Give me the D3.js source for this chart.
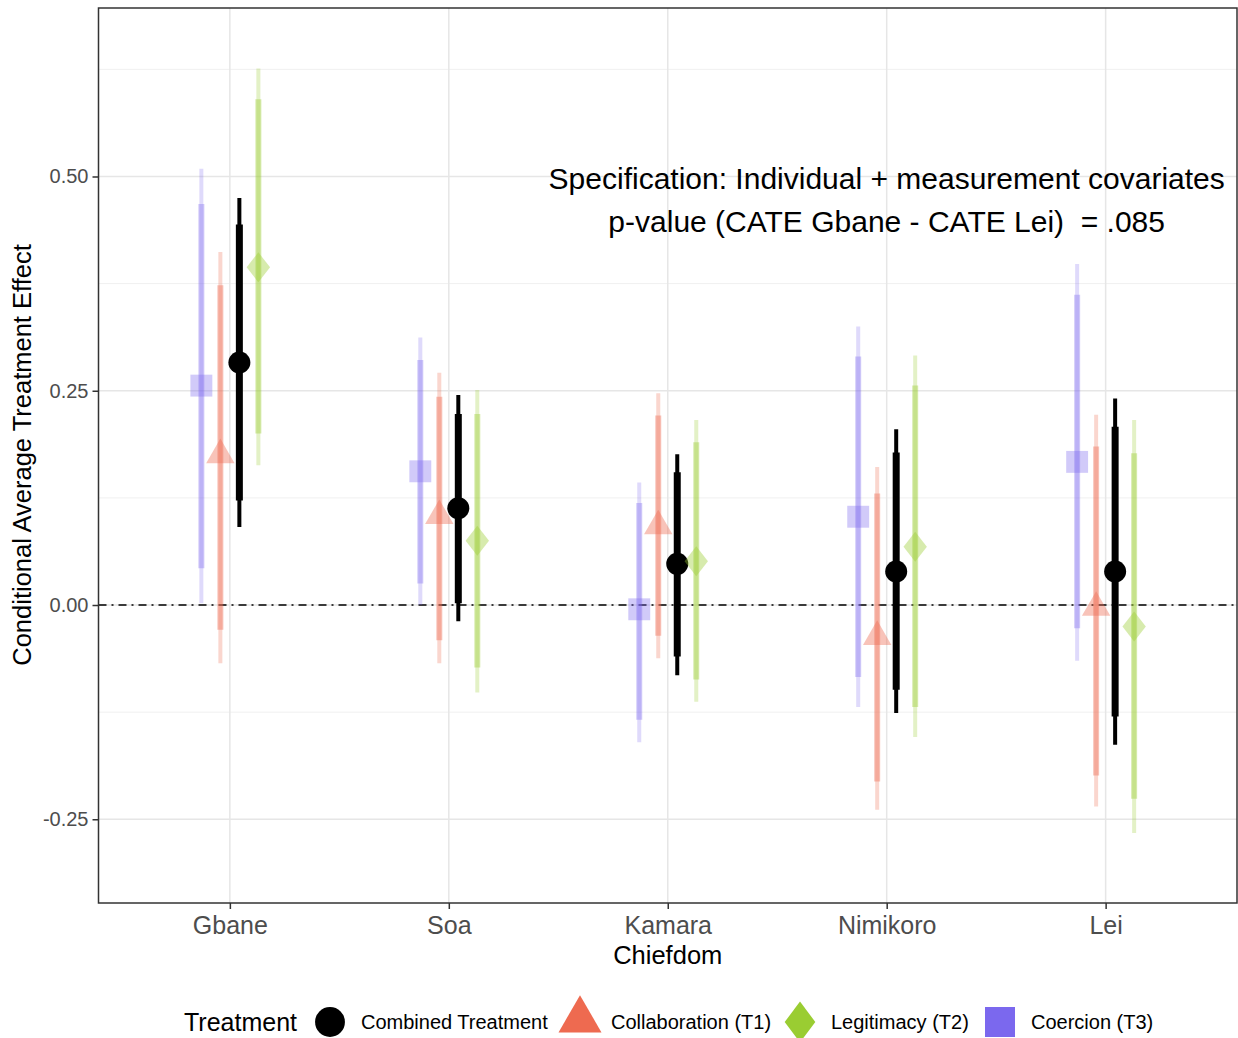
<!DOCTYPE html>
<html>
<head>
<meta charset="utf-8">
<script src="https://d3js.org/d3.v7.min.js"></script>
<style>
  body { margin: 0; background: #fff; }
  svg text { font-family: "Liberation Sans", Arial, sans-serif; }
</style>
</head>
<body>
<svg id="chart" width="1238" height="1038"></svg>
<script>
// Chiefdoms on the x axis
const chiefdoms = ["Gbane", "Soa", "Kamara", "Nimikoro", "Lei"];

// Treatments, in legend order
const treatments = ["Combined Treatment", "Collaboration (T1)", "Legitimacy (T2)", "Coercion (T3)"];
// order in which the estimates are dodged left to right
const dodgeOrder = ["Coercion (T3)", "Collaboration (T1)", "Combined Treatment", "Legitimacy (T2)"];

// point estimates per chiefdom
const combinedEst = [0.283, 0.113, 0.048, 0.039, 0.039];
const collabEst   = [0.175, 0.104, 0.092, -0.037, -0.003];
const legitEst    = [0.394, 0.075, 0.051, 0.068, -0.025];
const coercionEst = [0.256, 0.156, -0.005, 0.103, 0.167];

// inner (thick) intervals
const combinedLo90 = [0.122, 0.002, -0.060, -0.099, -0.130];
const combinedHi90 = [0.444, 0.223, 0.155, 0.178, 0.208];
const collabLo90   = [-0.029, -0.041, -0.036, -0.206, -0.199];
const collabHi90   = [0.373, 0.243, 0.221, 0.130, 0.185];
const legitLo90    = [0.200, -0.073, -0.087, -0.119, -0.226];
const legitHi90    = [0.590, 0.223, 0.190, 0.256, 0.177];
const coercionLo90 = [0.043, 0.025, -0.134, -0.084, -0.027];
const coercionHi90 = [0.468, 0.286, 0.119, 0.290, 0.362];

// outer (thin) intervals
const combinedLo95 = [0.091, -0.019, -0.082, -0.126, -0.163];
const combinedHi95 = [0.475, 0.245, 0.176, 0.205, 0.241];
const collabLo95   = [-0.068, -0.068, -0.062, -0.239, -0.235];
const collabHi95   = [0.412, 0.271, 0.247, 0.161, 0.222];
const legitLo95    = [0.163, -0.102, -0.113, -0.154, -0.266];
const legitHi95    = [0.626, 0.251, 0.216, 0.291, 0.216];
const coercionLo95 = [0.002, 0.000, -0.160, -0.119, -0.065];
const coercionHi95 = [0.509, 0.312, 0.143, 0.325, 0.398];

const yTicks = [-0.25, 0.00, 0.25, 0.50];

const seriesData = {
  "Combined Treatment": [combinedEst, combinedLo90, combinedHi90, combinedLo95, combinedHi95],
  "Collaboration (T1)": [collabEst, collabLo90, collabHi90, collabLo95, collabHi95],
  "Legitimacy (T2)":    [legitEst, legitLo90, legitHi90, legitLo95, legitHi95],
  "Coercion (T3)":      [coercionEst, coercionLo90, coercionHi90, coercionLo95, coercionHi95]
};

// flatten to rows for d3
const rows = [];
treatments.forEach(t => {
  const [est, lo90, hi90, lo95, hi95] = seriesData[t];
  chiefdoms.forEach((c, i) => {
    rows.push({ treatment: t, chiefdom: c, est: est[i], lo90: lo90[i], hi90: hi90[i], lo95: lo95[i], hi95: hi95[i] });
  });
});

const colors = d3.scaleOrdinal()
  .domain(treatments)
  .range(["#000000", "#EE6A50", "#9ACD32", "#7B68EE"]);
const alphas = { "Combined Treatment": 1, "Collaboration (T1)": 0.4, "Legitimacy (T2)": 0.4, "Coercion (T3)": 0.35 };

const svg = d3.select("#chart");
const panel = { left: 98.5, right: 1237, top: 8, bottom: 903 };

const x = d3.scalePoint().domain(chiefdoms).range([panel.left, panel.right]).padding(0.6);
const dodge = d3.scalePoint().domain(dodgeOrder).range([-28.5, 28.5]);
const y = d3.scaleLinear().domain([-0.3477, 0.6966]).range([panel.bottom, panel.top]);

// grid lines
const grid = svg.append("g");
const minorTicks = [-0.125, 0.125, 0.375, 0.625];
grid.selectAll(".minor").data(minorTicks).enter().append("line")
  .attr("x1", panel.left).attr("x2", panel.right)
  .attr("y1", d => y(d)).attr("y2", d => y(d))
  .attr("stroke", "#f0f0f0").attr("stroke-width", 1);
grid.selectAll(".major").data(yTicks).enter().append("line")
  .attr("x1", panel.left).attr("x2", panel.right)
  .attr("y1", d => y(d)).attr("y2", d => y(d))
  .attr("stroke", "#e6e6e6").attr("stroke-width", 1.5);
grid.selectAll(".vmajor").data(chiefdoms).enter().append("line")
  .attr("x1", d => x(d)).attr("x2", d => x(d))
  .attr("y1", panel.top).attr("y2", panel.bottom)
  .attr("stroke", "#e6e6e6").attr("stroke-width", 1.5);

// reference line at zero
svg.append("line")
  .attr("x1", panel.left).attr("x2", panel.right)
  .attr("y1", y(0)).attr("y2", y(0))
  .attr("stroke", "#000").attr("stroke-width", 1.6)
  .attr("stroke-dasharray", "8 5 2 5");

// intervals and points
const marks = svg.append("g");
const px = d => x(d.chiefdom) + dodge(d.treatment);

marks.selectAll(".outer").data(rows).enter().append("line")
  .attr("x1", px).attr("x2", px)
  .attr("y1", d => y(d.lo95)).attr("y2", d => y(d.hi95))
  .attr("stroke", d => colors(d.treatment))
  .attr("stroke-opacity", d => d.treatment === "Combined Treatment" ? 1 : alphas[d.treatment] * 0.7)
  .attr("stroke-width", 4);

marks.selectAll(".inner").data(rows).enter().append("line")
  .attr("x1", px).attr("x2", px)
  .attr("y1", d => y(d.lo90)).attr("y2", d => y(d.hi90))
  .attr("stroke", d => colors(d.treatment))
  .attr("stroke-opacity", d => alphas[d.treatment])
  .attr("stroke-width", d => d.treatment === "Combined Treatment" ? 7 : 6);

const symbolOf = {
  "Combined Treatment": d3.symbolCircle,
  "Collaboration (T1)": d3.symbolTriangle,
  "Legitimacy (T2)": d3.symbolDiamond,
  "Coercion (T3)": d3.symbolSquare
};
const sizeOf = {
  "Combined Treatment": 380,
  "Collaboration (T1)": 350,
  "Legitimacy (T2)": 260,
  "Coercion (T3)": 480
};

marks.selectAll(".pt").data(rows).enter().append("path")
  .attr("transform", d => {
    const r = d.treatment === "Legitimacy (T2)" ? " scale(1.35,1)" : "";
    return `translate(${px(d)},${y(d.est)})` + r;
  })
  .attr("d", d => d3.symbol().type(symbolOf[d.treatment]).size(sizeOf[d.treatment])())
  .attr("fill", d => colors(d.treatment))
  .attr("fill-opacity", d => alphas[d.treatment]);

// panel border
svg.append("rect")
  .attr("x", panel.left).attr("y", panel.top)
  .attr("width", panel.right - panel.left).attr("height", panel.bottom - panel.top)
  .attr("fill", "none").attr("stroke", "#333").attr("stroke-width", 1.5);

// axes
const xAxis = svg.append("g")
  .attr("transform", `translate(0,${panel.bottom})`)
  .call(d3.axisBottom(x).tickSize(6).tickPadding(7));
xAxis.select(".domain").remove();
xAxis.selectAll("line").attr("stroke", "#333").attr("stroke-width", 1.5);
xAxis.selectAll("text").attr("fill", "#4d4d4d").attr("font-size", "25px");

const yAxis = svg.append("g")
  .attr("transform", `translate(${panel.left},0)`)
  .call(d3.axisLeft(y).tickValues(yTicks).tickFormat(d => d3.format(".2f")(d).replace("−", "-")).tickSize(6).tickPadding(4));
yAxis.select(".domain").remove();
yAxis.selectAll("line").attr("stroke", "#333").attr("stroke-width", 1.5);
yAxis.selectAll("text").attr("fill", "#4d4d4d").attr("font-size", "20px");

// axis titles
svg.append("text")
  .attr("x", x("Kamara")).attr("y", 964)
  .attr("text-anchor", "middle").attr("font-size", "25.5px").attr("fill", "#000")
  .text("Chiefdom");
svg.append("text")
  .attr("transform", `translate(31,${455}) rotate(-90)`)
  .attr("text-anchor", "middle").attr("font-size", "25.5px").attr("fill", "#000")
  .text("Conditional Average Treatment Effect");

// annotation
const note = svg.append("text")
  .attr("text-anchor", "middle").attr("font-size", "30px").attr("fill", "#000");
note.append("tspan").attr("x", x("Nimikoro")).attr("y", 189)
  .text("Specification: Individual + measurement covariates");
note.append("tspan").attr("x", x("Nimikoro")).attr("y", 232)
  .attr("style", "white-space: pre")
  .text("p-value (CATE Gbane - CATE Lei)  = .085");

// legend
const legend = svg.append("g").attr("transform", "translate(0,1022)");
legend.append("text").attr("x", 184).attr("y", 9)
  .attr("font-size", "25px").attr("fill", "#000").text("Treatment");

const legendX = [330, 580, 800, 1000];
const legendSizes = { "Combined Treatment": 700, "Collaboration (T1)": 800, "Legitimacy (T2)": 480, "Coercion (T3)": 900 };
treatments.forEach((t, i) => {
  const g = legend.append("g").attr("transform", `translate(${legendX[i]},0)`);
  g.append("path")
    .attr("transform", t === "Legitimacy (T2)" ? "scale(1.3,1)" : (t === "Collaboration (T1)" ? "translate(0,-2)" : null))
    .attr("d", d3.symbol().type(symbolOf[t]).size(legendSizes[t])())
    .attr("fill", colors(t));
  g.append("text").attr("x", 31).attr("y", 7)
    .attr("font-size", "20px").attr("fill", "#000").text(t);
});
</script>
</body>
</html>
